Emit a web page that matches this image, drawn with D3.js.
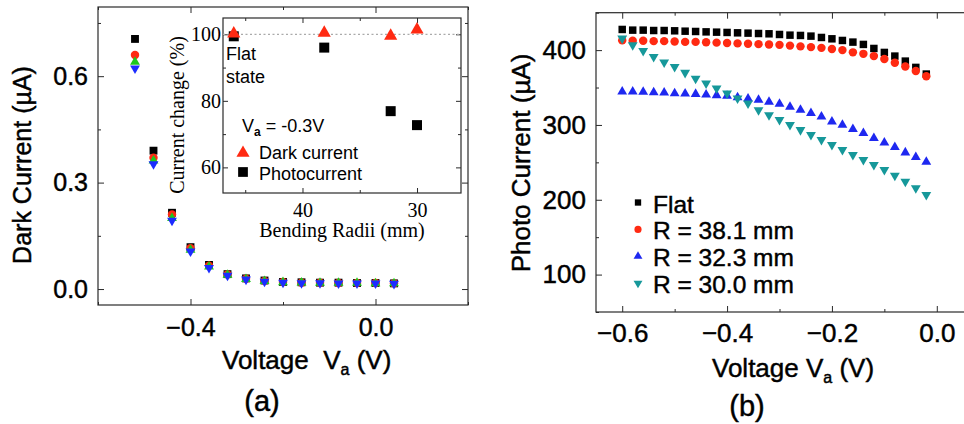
<!DOCTYPE html>
<html>
<head>
<meta charset="utf-8">
<script src="https://cdn.jsdelivr.net/npm/d3@7"></script>
<style>
  html, body { margin: 0; padding: 0; background: #fff; }
  svg { display: block; }
  .heavy { stroke: #000; stroke-width: 0.45px; paint-order: stroke; }
</style>
</head>
<body>
<svg id="chart" width="964" height="424"></svg>
<script>
// ---------- Panel (a): dark current vs applied voltage ----------
const darkVoltage = [-0.52, -0.48, -0.44, -0.40, -0.36, -0.32, -0.28, -0.24, -0.20, -0.16, -0.12, -0.08, -0.04, 0.00, 0.04];
const darkFlat = [0.705, 0.390, 0.215, 0.118, 0.068, 0.042, 0.030, 0.024, 0.020, 0.019, 0.018, 0.018, 0.017, 0.017, 0.016];
const darkR381 = [0.660, 0.370, 0.210, 0.115, 0.066, 0.041, 0.029, 0.023, 0.020, 0.018, 0.018, 0.017, 0.017, 0.017, 0.016];
const darkR323 = [0.640, 0.362, 0.200, 0.110, 0.063, 0.040, 0.028, 0.022, 0.019, 0.018, 0.017, 0.017, 0.017, 0.016, 0.016];
const darkR300 = [0.622, 0.352, 0.193, 0.106, 0.060, 0.038, 0.027, 0.021, 0.018, 0.017, 0.017, 0.016, 0.016, 0.016, 0.015];
const darkYTicks = [0, 0.3, 0.6];
const darkYMinor = [0.15, 0.45, 0.75];
const darkXTicks = [-0.4, 0.0];
const darkXMinor = [-0.6, -0.2, 0.2];

// ---------- Inset: current change at Va = -0.3 V vs bending radius ----------
// the flat (unbent) state is placed at the left edge of the radius axis
const insetRadius = [46, 38.1, 32.3, 30.0];
const insetDark = [100.2, 100.4, 99.5, 101.4];
const insetPhoto = [99.4, 96.0, 76.9, 72.7];
const insetYTicks = [60, 80, 100];
const insetYMinor = [70, 90];
const insetXTicks = [40, 30];
const insetXMinor = [45, 35];

// ---------- Panel (b): photocurrent vs applied voltage ----------
const photoVoltage = [-0.60, -0.58, -0.56, -0.54, -0.52, -0.50, -0.48, -0.46, -0.44, -0.42,
                      -0.40, -0.38, -0.36, -0.34, -0.32, -0.30, -0.28, -0.26, -0.24, -0.22,
                      -0.20, -0.18, -0.16, -0.14, -0.12, -0.10, -0.08, -0.06, -0.04, -0.02];
const photoFlat = [427.6, 426.7, 426.7, 426.2, 426.2, 425.8, 425.3, 424.9, 424.4, 424.0,
                   423.6, 423.1, 422.7, 422.2, 421.8, 420.9, 420.0, 419.6, 418.7, 416.9,
                   415.1, 412.9, 410.7, 407.6, 402.2, 396.9, 392.0, 385.3, 376.9, 368.0];
const photoR381 = [413.0, 412.5, 412.5, 412.0, 412.0, 411.5, 411.0, 411.0, 410.5, 410.0,
                   409.5, 409.0, 408.5, 408.0, 407.5, 407.0, 406.0, 405.0, 404.0, 403.0,
                   401.5, 400.0, 397.0, 395.0, 392.0, 388.0, 383.0, 378.0, 372.0, 365.0];
const photoR323 = [344.4, 344.4, 344.0, 343.6, 343.1, 342.2, 341.8, 341.3, 340.4, 339.6,
                   338.7, 336.9, 335.1, 333.3, 330.7, 328.0, 324.0, 320.0, 315.6, 311.1,
                   304.4, 300.0, 294.2, 288.9, 282.2, 276.4, 270.2, 263.1, 256.9, 250.7];
const photoR300 = [415.6, 406.7, 399.0, 391.0, 383.6, 377.8, 369.8, 362.0, 355.6, 348.9,
                   342.2, 335.6, 328.9, 320.0, 313.3, 306.7, 300.0, 293.3, 286.7, 280.0,
                   273.3, 266.7, 260.0, 253.3, 246.7, 240.0, 232.4, 224.4, 215.6, 206.7];
const photoYTicks = [100, 200, 300, 400];
const photoYMinor = [50, 150, 250, 350, 450];
const photoXTicks = [-0.6, -0.4, -0.2, 0.0];
const photoXMinor = [-0.5, -0.3, -0.1];
const photoLegend = ["Flat", "R = 38.1 mm", "R = 32.3 mm", "R = 30.0 mm"];

// ---------- shared drawing helpers ----------
const SANS = "'Liberation Sans', Arial, Helvetica, sans-serif";
const SERIF = "'Liberation Serif', 'Times New Roman', serif";
const FRAME = "#2a2a2a";
const svg = d3.select("#chart");

function symbolFor(shape) {
  return shape === "circle" ? d3.symbolCircle : shape === "square" ? d3.symbolSquare : d3.symbolTriangle;
}

function marks(g, xs, ys, x, y, shape, size, color) {
  const gen = d3.symbol().type(symbolFor(shape)).size(size);
  g.append("g").selectAll("path").data(xs.map((v, i) => [v, ys[i]])).join("path")
    .attr("d", gen)
    .attr("transform", d => `translate(${x(d[0])},${y(d[1])})` + (shape === "down" ? " rotate(180)" : ""))
    .attr("fill", color);
}

// inward-pointing ticks on every side, labels on the bottom and left
function frameAxes(g, x, y, opt) {
  const [x0, x1] = x.range();
  const [y0, y1] = y.range();
  const style = sel => {
    sel.select(".domain").remove();
    sel.selectAll("line").attr("stroke", FRAME).attr("stroke-width", 1);
    sel.selectAll("text").attr("fill", "#000").style("font-family", opt.font)
      .style("font-size", opt.fontSize + "px")
      .classed("heavy", !!opt.heavy);
  };
  g.append("g").attr("transform", `translate(0,${y0})`)
    .call(d3.axisBottom(x).tickValues(opt.xTicks).tickSize(-opt.major).tickPadding(opt.xPad).tickFormat(opt.xFmt))
    .call(style);
  g.append("g").attr("transform", `translate(0,${y0})`)
    .call(d3.axisBottom(x).tickValues(opt.xMinor).tickSize(-opt.minor).tickFormat(""))
    .call(style);
  g.append("g").attr("transform", `translate(${x0},0)`)
    .call(d3.axisLeft(y).tickValues(opt.yTicks).tickSize(-opt.major).tickPadding(opt.yPad).tickFormat(opt.yFmt))
    .call(style);
  g.append("g").attr("transform", `translate(${x0},0)`)
    .call(d3.axisLeft(y).tickValues(opt.yMinor).tickSize(-opt.minor).tickFormat(""))
    .call(style);
  g.append("g").attr("transform", `translate(0,${y1})`)
    .call(d3.axisTop(x).tickValues(opt.xTicks).tickSize(-opt.major).tickFormat(""))
    .call(style);
  g.append("g").attr("transform", `translate(0,${y1})`)
    .call(d3.axisTop(x).tickValues(opt.xMinor).tickSize(-opt.minor).tickFormat(""))
    .call(style);
  if (opt.right) {
    g.append("g").attr("transform", `translate(${x1},0)`)
      .call(d3.axisRight(y).tickValues(opt.yTicks).tickSize(-opt.major).tickFormat(""))
      .call(style);
    g.append("g").attr("transform", `translate(${x1},0)`)
      .call(d3.axisRight(y).tickValues(opt.yMinor).tickSize(-opt.minor).tickFormat(""))
      .call(style);
  }
}

function frameRect(g, x0, y0, x1, y1) {
  g.append("rect").attr("x", x0).attr("y", y0).attr("width", x1 - x0).attr("height", y1 - y0)
    .attr("fill", "none").attr("stroke", FRAME).attr("stroke-width", 1.2);
}

// ---------- Panel (a) ----------
const ga = svg.append("g");
const xa = d3.scaleLinear().domain([-0.6, 0.2]).range([98, 468]);
const ya = d3.scaleLinear().domain([-0.045, 0.795]).range([305, 7]);
frameAxes(ga, xa, ya, {
  xTicks: darkXTicks, xMinor: darkXMinor, yTicks: darkYTicks, yMinor: darkYMinor,
  major: 6, minor: 3, xPad: 13, yPad: 10, font: SANS, fontSize: 25, right: true, heavy: true,
  xFmt: d3.format(".1f"), yFmt: d3.format(".1f")
});
frameRect(ga, 98, 7, 468, 305);

marks(ga, darkVoltage, darkFlat, xa, ya, "square", 62, "#000");
marks(ga, darkVoltage, darkR381, xa, ya, "circle", 56, "#ff2a12");
marks(ga, darkVoltage, darkR323, xa, ya, "up", 42, "#1ec81e");
marks(ga, darkVoltage, darkR300, xa, ya, "down", 42, "#1c2cff");

ga.append("text").attr("class", "heavy")
  .attr("transform", "translate(31,165) rotate(-90)")
  .attr("text-anchor", "middle")
  .style("font-family", SANS).style("font-size", "25px")
  .text("Dark Current (\u00b5A)");

const xta = ga.append("text").attr("class", "heavy").attr("x", 222).attr("y", 369)
  .style("font-family", SANS).style("font-size", "26px");
xta.append("tspan").text("Voltage\u00a0\u00a0V");
xta.append("tspan").attr("dy", 6).style("font-size", "16px").text("a");
xta.append("tspan").attr("dy", -6).text(" (V)");

ga.append("text").attr("class", "heavy").attr("x", 262).attr("y", 411).attr("text-anchor", "middle")
  .style("font-family", SANS).style("font-size", "29px").text("(a)");

// ---------- Inset ----------
const gi = svg.append("g");
gi.append("rect").attr("x", 223).attr("y", 18).attr("width", 238).attr("height", 175).attr("fill", "#fff");
const xi = d3.scaleLinear().domain([46.94, 26.16]).range([223, 461]);
const yi = d3.scaleLinear().domain([52.3, 104.9]).range([193, 18]);
frameAxes(gi, xi, yi, {
  xTicks: insetXTicks, xMinor: insetXMinor, yTicks: insetYTicks, yMinor: insetYMinor,
  major: 5, minor: 3, xPad: 10, yPad: 2, font: SERIF, fontSize: 20, right: true, heavy: false,
  xFmt: d3.format("d"), yFmt: d3.format("d")
});
frameRect(gi, 223, 18, 461, 193);

gi.append("line")
  .attr("x1", 223).attr("x2", 461).attr("y1", yi(100)).attr("y2", yi(100))
  .attr("stroke", "#aaa").attr("stroke-width", 1.2).attr("stroke-dasharray", "2,2.5");

marks(gi, insetRadius, insetPhoto, xi, yi, "square", 100, "#000");
marks(gi, insetRadius, insetDark, xi, yi, "up", 75, "#ff2a12");

gi.append("text")
  .attr("transform", "translate(184,115) rotate(-90)")
  .attr("text-anchor", "middle")
  .style("font-family", SERIF).style("font-size", "20px")
  .text("Current change (%)");
gi.append("text").attr("x", 342).attr("y", 237).attr("text-anchor", "middle")
  .style("font-family", SERIF).style("font-size", "20px")
  .text("Bending Radii (mm)");

gi.append("text").attr("x", 226).attr("y", 60)
  .style("font-family", SANS).style("font-size", "18px").text("Flat");
gi.append("text").attr("x", 226).attr("y", 83)
  .style("font-family", SANS).style("font-size", "18px").text("state");

const va = gi.append("text").attr("x", 242).attr("y", 132)
  .style("font-family", SANS).style("font-size", "18px");
va.append("tspan").text("V");
va.append("tspan").attr("dy", 4).style("font-size", "12px").style("font-weight", "bold").text("a");
va.append("tspan").attr("dy", -4).text(" = -0.3V");

const insetKey = [
  { label: "Dark current", shape: "up", size: 75, color: "#ff2a12", y: 153, ty: 159 },
  { label: "Photocurrent", shape: "square", size: 95, color: "#000", y: 172, ty: 180 }
];
insetKey.forEach(k => {
  gi.append("path").attr("d", d3.symbol().type(symbolFor(k.shape)).size(k.size)())
    .attr("transform", `translate(243,${k.y})`).attr("fill", k.color);
  gi.append("text").attr("x", 259).attr("y", k.ty)
    .style("font-family", SANS).style("font-size", "18px").text(k.label);
});

// ---------- Panel (b) ----------
const gb = svg.append("g");
const xb = d3.scaleLinear().domain([-0.65, 0.05]).range([596, 963]);
const yb = d3.scaleLinear().domain([50, 450]).range([312, 12.7]);
frameAxes(gb, xb, yb, {
  xTicks: photoXTicks, xMinor: photoXMinor, yTicks: photoYTicks, yMinor: photoYMinor,
  major: 6, minor: 3, xPad: 12, yPad: 10, font: SANS, fontSize: 26, right: false, heavy: true,
  xFmt: d3.format(".1f"), yFmt: d3.format("d")
});
frameRect(gb, 596, 12.7, 966, 312);

marks(gb, photoVoltage, photoFlat, xb, yb, "square", 56, "#000");
marks(gb, photoVoltage, photoR381, xb, yb, "circle", 56, "#ff2a12");
marks(gb, photoVoltage, photoR323, xb, yb, "up", 42, "#1e28f0");
marks(gb, photoVoltage, photoR300, xb, yb, "down", 42, "#16989a");

gb.append("text").attr("class", "heavy")
  .attr("transform", "translate(530,163) rotate(-90)")
  .attr("text-anchor", "middle")
  .style("font-family", SANS).style("font-size", "26px")
  .text("Photo Current (\u00b5A)");

const xtb = gb.append("text").attr("class", "heavy").attr("x", 712).attr("y", 377)
  .style("font-family", SANS).style("font-size", "26px");
xtb.append("tspan").text("Voltage V");
xtb.append("tspan").attr("dy", 6).style("font-size", "16px").text("a");
xtb.append("tspan").attr("dy", -6).text(" (V)");

gb.append("text").attr("class", "heavy").attr("x", 747).attr("y", 416).attr("text-anchor", "middle")
  .style("font-family", SANS).style("font-size", "29px").text("(b)");

const legendShapes = [
  { shape: "square", size: 40, color: "#000" },
  { shape: "circle", size: 40, color: "#ff2a12" },
  { shape: "up", size: 34, color: "#1e28f0" },
  { shape: "down", size: 34, color: "#16989a" }
];
photoLegend.forEach((label, i) => {
  const s = legendShapes[i];
  const cy = 202.5 + i * 26.9;
  gb.append("path").attr("d", d3.symbol().type(symbolFor(s.shape)).size(s.size)())
    .attr("transform", `translate(638,${cy})` + (s.shape === "down" ? " rotate(180)" : ""))
    .attr("fill", s.color);
  gb.append("text").attr("class", "heavy").attr("x", 653).attr("y", cy + 10)
    .style("font-family", SANS).style("font-size", "24.5px").text(label);
});
</script>
</body>
</html>
